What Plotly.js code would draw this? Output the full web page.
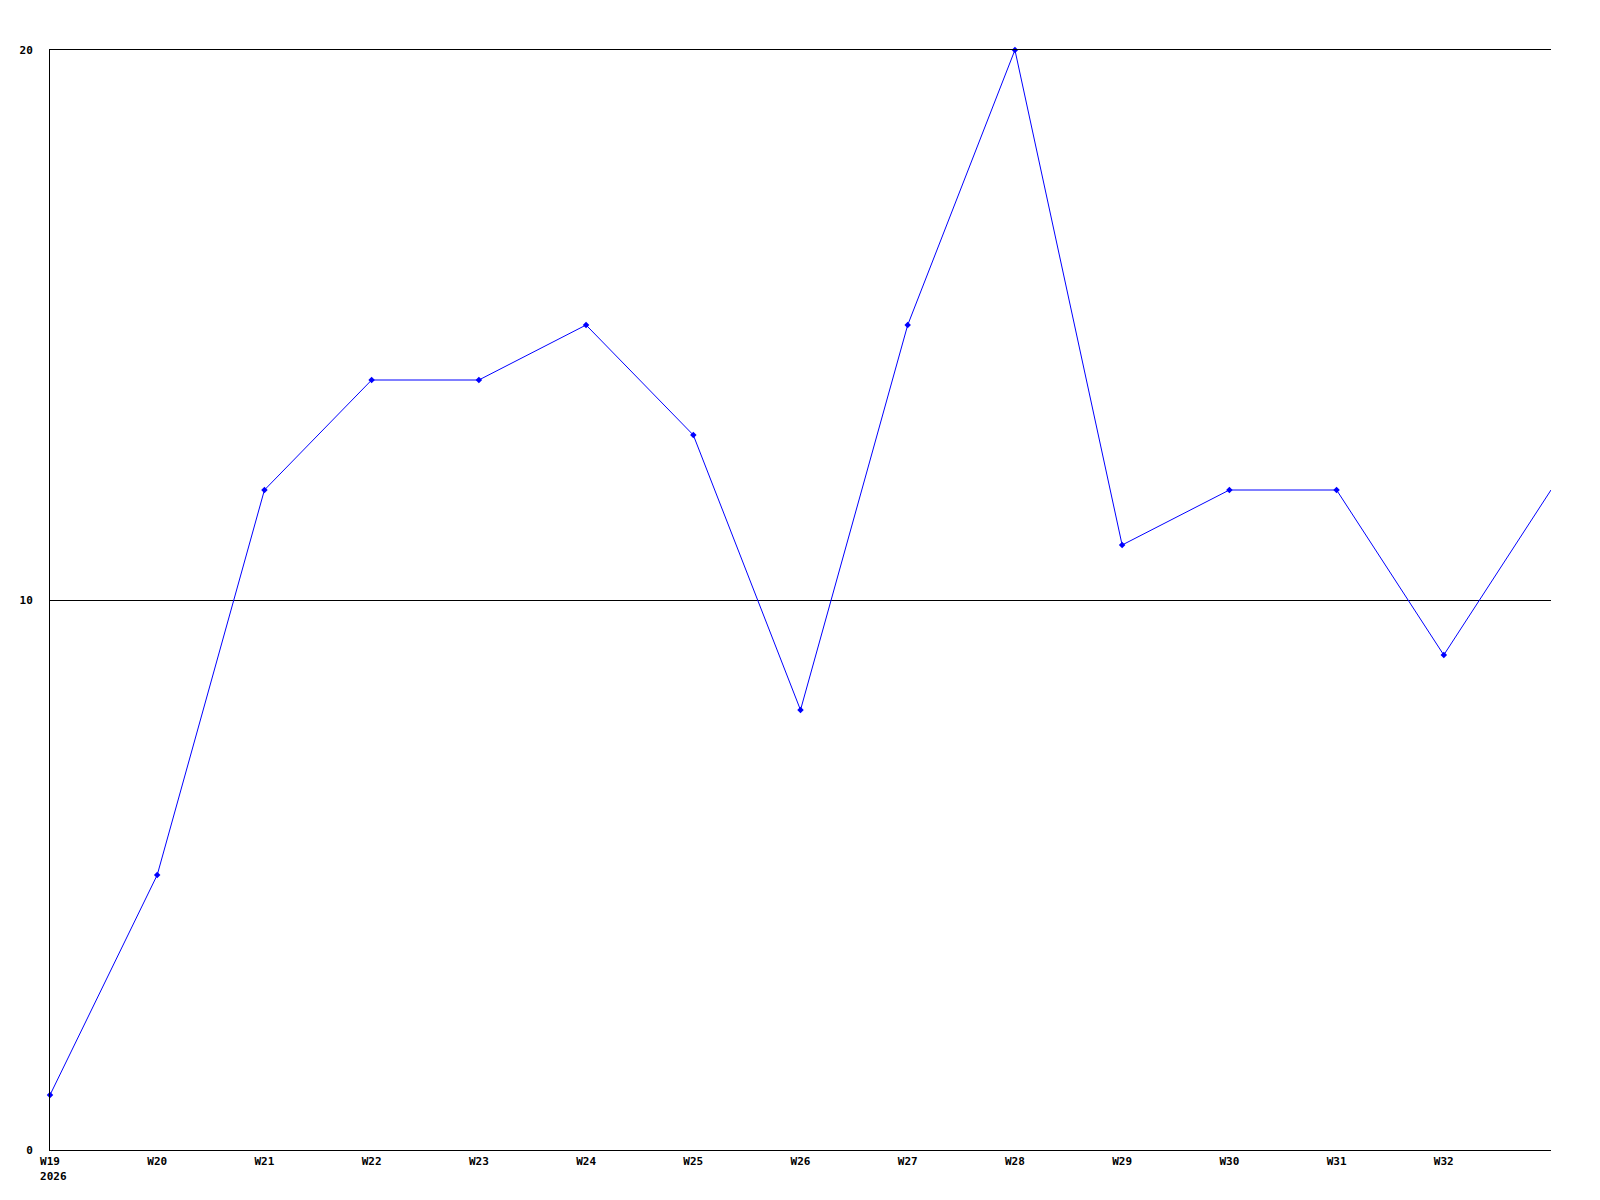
<!DOCTYPE html>
<html>
<head>
<meta charset="utf-8">
<script src="https://cdn.plot.ly/plotly-3.0.1.min.js"></script>
<style>html,body{margin:0;padding:0;background:#fff;}#chart{width:1600px;height:1200px;}</style>
</head>
<body>
<div id="chart"></div>
<script>
const weeks = ["W19","W20","W21","W22","W23","W24","W25","W26","W27","W28","W29","W30","W31","W32","W33"];
const values = [1,5,12,14,14,15,13,8,15,20,11,12,12,9,12];
const tickLabels = ["W19<br>\u00a02026","W20","W21","W22","W23","W24","W25","W26","W27","W28","W29","W30","W31","W32"];
const yTicks = [0,10,20];

const xIdx = weeks.map((w,i)=>i);
const markerOpacity = values.map((v,i)=> i === values.length-1 ? 0 : 1);
const font = {family:"DejaVu Sans Mono, monospace", size:11, color:"#000", weight:"bold"};

Plotly.newPlot("chart", [{
  x: xIdx, y: values, type:"scatter", mode:"lines+markers",
  line:{color:"#0000ff", width:1},
  marker:{color:"#0000ff", size:5, symbol:"diamond", opacity:markerOpacity},
  hoverinfo:"none", cliponaxis:false
}], {
  width:1600, height:1200,
  margin:{l:50, r:49, t:50, b:50, pad:0},
  paper_bgcolor:"#fff", plot_bgcolor:"#fff",
  showlegend:false,
  font: font,
  xaxis:{
    range:[0,14], tickmode:"array", tickvals:tickLabels.map((t,i)=>i), ticktext:tickLabels,
    showgrid:false, zeroline:false, showline:true, mirror:true, linecolor:"#000", linewidth:1,
    ticks:"", ticklabelstandoff:1, tickfont:font, fixedrange:true
  },
  yaxis:{
    range:[0,20], tickmode:"array", tickvals:yTicks, ticktext:yTicks.map(String),
    showgrid:true, gridcolor:"#000", gridwidth:1, zeroline:false,
    showline:true, linecolor:"#000", linewidth:1, ticks:"", ticklabelstandoff:14,
    tickfont:font, fixedrange:true
  }
}, {staticPlot:true});
</script>
</body>
</html>
